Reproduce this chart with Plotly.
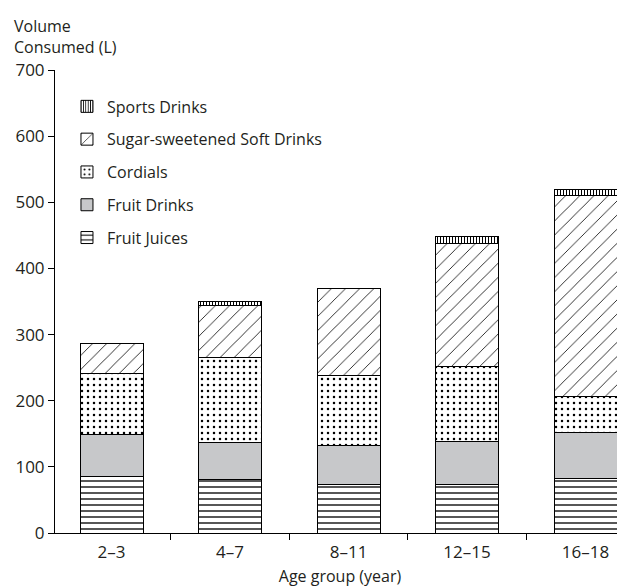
import plotly.graph_objects as go

categories = ["2–3", "4–7", "8–11", "12–15", "16–18"]
fruit_juices = [86, 81, 73, 74, 83]
fruit_drinks = [63, 56, 59, 65, 69]
cordials = [92, 129, 106, 113, 55]
soft_drinks = [46, 78, 132, 186, 303]
sports_drinks = [0, 6, 0, 10, 10]
y_ticks = [0, 100, 200, 300, 400, 500, 600, 700]

FONT = "Open Sans"
TXT = "#231f20"

series = [
    ("Fruit Juices", fruit_juices, dict(shape="-", size=6, solidity=0.22)),
    ("Fruit Drinks", fruit_drinks, None),
    ("Cordials", cordials, dict(shape=".", size=6, solidity=0.14)),
    ("Sugar-sweetened Soft Drinks", soft_drinks, dict(shape="/", size=10, solidity=0.08)),
    ("Sports Drinks", sports_drinks, dict(shape="|", size=3, solidity=0.35)),
]

fig = go.Figure()
n = len(series)
for i, (name, vals, pat) in enumerate(series):
    if pat is None:
        marker = dict(color="#c7c8ca", line=dict(color="black", width=1))
    else:
        p = dict(pat)
        p.update(fgcolor="black", bgcolor="white", fillmode="replace")
        marker = dict(color="white", pattern=p, line=dict(color="black", width=1))
    fig.add_trace(go.Bar(x=categories, y=vals, name=name, marker=marker,
                         legendgroup=f"g{i}", legendrank=n - i))

W, H = 617, 579  # page body has an 8px margin
fig.update_layout(
    barmode="stack",
    bargap=0.468,
    width=W, height=H,
    margin=dict(l=47, r=0, t=62, b=54),
    plot_bgcolor="white", paper_bgcolor="white",
    font=dict(family=FONT, size=16, color=TXT),
    showlegend=True,
    legend=dict(x=0.021, y=0.958, xanchor="left", yanchor="top",
                traceorder="grouped", tracegroupgap=9,
                font=dict(size=16, color=TXT), bgcolor="rgba(0,0,0,0)"),
    xaxis=dict(type="category", range=[-0.477, 4.333], showline=True,
               linecolor="black", linewidth=1, ticks="outside", tickson="boundaries",
               ticklen=6, tickcolor="black", showgrid=False,
               tickfont=dict(size=17, color=TXT), ticklabelstandoff=4,
               title=dict(text="Age group (year)", font=dict(size=16, color=TXT), standoff=12)),
    yaxis=dict(range=[0, 700], tickvals=y_ticks, showline=True, linecolor="black",
               linewidth=1, ticks="outside", ticklen=6, tickcolor="black",
               showgrid=False, zeroline=False, tickfont=dict(size=17, color=TXT)),
    annotations=[dict(text="Volume<br>Consumed (L)", xref="paper", yref="paper",
                      x=(12 - 55) / 570, y=(533 - 13) / 463, xanchor="left", yanchor="top",
                      align="left", showarrow=False, font=dict(size=16, color=TXT))],
)

fig.write_html("out.html")
